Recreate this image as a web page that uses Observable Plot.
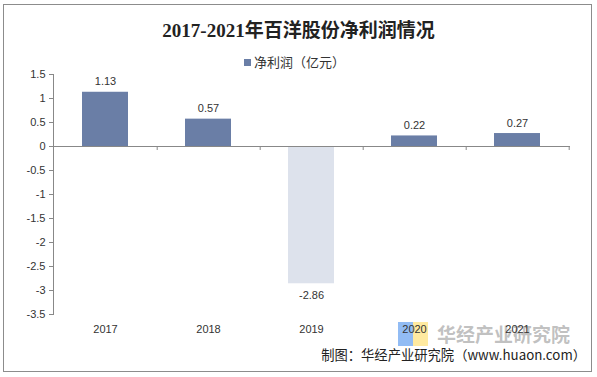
<!DOCTYPE html>
<html><head><meta charset="utf-8">
<script src="https://cdn.jsdelivr.net/npm/d3@7"></script>
<script src="https://cdn.jsdelivr.net/npm/@observablehq/plot@0.6"></script>
<style>
body{margin:0;background:#fff;}
#wrap{position:relative;width:597px;height:377px;overflow:hidden;font-family:"Liberation Sans",Arial,"Noto Sans CJK SC",sans-serif;}
#frame{position:absolute;left:3px;top:4px;width:589px;height:368px;border:1px solid #8c8c8c;box-sizing:border-box;}
#title{position:absolute;left:0;width:597px;top:15px;text-align:center;font-family:"Liberation Serif","Noto Sans CJK SC",serif;font-weight:bold;font-size:19px;color:#222;}
#legend{position:absolute;left:244px;top:52px;font-size:13px;color:#333;font-family:"Noto Sans CJK SC",sans-serif;}
#legend span.sw{display:inline-block;width:7px;height:7px;background:#6a7ea6;margin-right:3px;vertical-align:1px;}
#foot{position:absolute;right:11px;top:345px;font-size:13.3px;color:#222;font-family:"Noto Sans CJK SC",sans-serif;}
#wm1{position:absolute;left:437px;top:324px;font-size:19px;line-height:19px;font-weight:bold;color:rgba(140,140,140,0.55);font-family:"Noto Sans CJK SC",sans-serif;}
#lb{position:absolute;left:398px;top:322px;width:15px;height:24px;background:rgba(100,160,240,0.7);}
#ly{position:absolute;left:413px;top:322px;width:15px;height:24px;background:rgba(255,225,120,0.7);}
#plot{position:absolute;left:0;top:0;}
</style></head>
<body><div id="wrap">
<div id="frame"></div>
<div id="lb"></div><div id="ly"></div>
<div id="wm1">华经产业研究院</div>
<div id="plot"></div>
<div id="title">2017-2021年百洋股份净利润情况</div>
<div id="legend"><span class="sw"></span>净利润（亿元）</div>
<div id="foot">制图：华经产业研究院（www.huaon.com）</div>
</div>
<script>
const years = ["2017","2018","2019","2020","2021"];
const profits = [1.13, 0.57, -2.86, 0.22, 0.27];
const yTicks = [1.5,1,0.5,0,-0.5,-1,-1.5,-2,-2.5,-3,-3.5];
const data = years.map((y,i)=>({year:y, value:profits[i]}));

const W=597, H=377, mL=53, mR=27, mT=74, mB=63;
const bw = (W-mL-mR)/years.length;
const tickLen = 4/((H-mT-mB)/5);

const chart = Plot.plot({
  width:W, height:H, marginLeft:mL, marginRight:mR, marginTop:mT, marginBottom:mB,
  style:{fontFamily:"Liberation Sans, Arial, sans-serif", fontSize:"11px", color:"#333", background:"transparent", overflow:"visible"},
  x:{domain:years, paddingInner:0.55, paddingOuter:0.275, label:null, axis:null},
  y:{domain:[-3.5,1.5], label:null, axis:null},
  marks:[
    Plot.barY(data,{x:"year", y:"value", fill:d=>d.value<0?"#dde2ec":"#6a7ea6"}),
    Plot.ruleY([0],{stroke:"#888", strokeWidth:1}),
    Plot.ruleX(years,{x:d=>d, y1:0, y2:-tickLen, dx:bw/2, stroke:"#888"}),
    Plot.axisY(yTicks,{anchor:"left", tickSize:4, tickPadding:4, stroke:"#888", fill:"#333", fontSize:11, tickFormat:d=>String(d)}),
    Plot.frame({anchor:"left", stroke:"#888"}),
    Plot.text(data.filter(d=>d.value>=0),{x:"year", y:"value", text:d=>d.value.toFixed(2), dy:-7, fill:"#333", fontSize:11, lineAnchor:"bottom"}),
    Plot.text(data.filter(d=>d.value<0),{x:"year", y:"value", text:d=>d.value.toFixed(2), dy:7, fill:"#333", fontSize:11, lineAnchor:"top"}),
    Plot.text(years,{x:d=>d, frameAnchor:"bottom", dy:18, fill:"#333", fontSize:11, text:d=>d})
  ]
});
document.getElementById("plot").appendChild(chart);
</script>
</body></html>
